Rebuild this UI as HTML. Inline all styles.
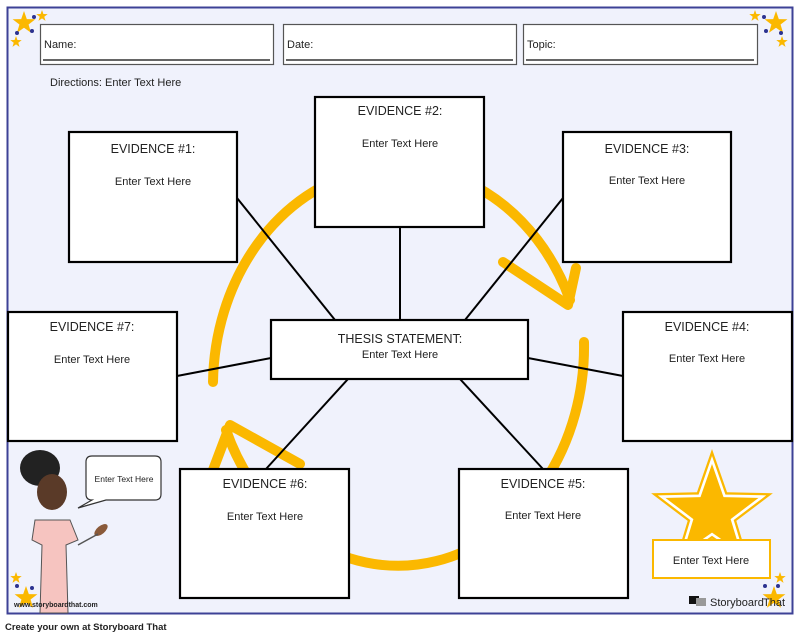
<!DOCTYPE html>
<html><head><meta charset="utf-8"><style>
body{margin:0;background:#fff;}
svg{display:block}
text{font-family:"Liberation Sans",sans-serif;fill:#222}
</style></head><body>
<svg width="800" height="636" viewBox="0 0 800 636" xmlns="http://www.w3.org/2000/svg">
<defs>
<polygon id="st" points="0,-1 0.235,-0.324 0.951,-0.309 0.380,0.124 0.588,0.809 0,0.4 -0.588,0.809 -0.380,0.124 -0.951,-0.309 -0.235,-0.324"/>
</defs>
<rect x="0" y="0" width="800" height="636" fill="#fff"/>
<rect x="7.5" y="7.5" width="785" height="606" fill="#f0f2fc" stroke="#3d4196" stroke-width="2"/>
<!-- header boxes -->
<g fill="#fff" stroke="#555" stroke-width="1.2">
<rect x="40.5" y="24.5" width="233" height="40"/>
<rect x="283.5" y="24.5" width="233" height="40"/>
<rect x="523.5" y="24.5" width="234" height="40"/>
</g>
<g stroke="#333" stroke-width="1.5">
<line x1="43" y1="60" x2="270" y2="60"/>
<line x1="286" y1="60" x2="513" y2="60"/>
<line x1="526" y1="60" x2="754" y2="60"/>
</g>
<text x="44" y="48" font-size="11">Name:</text>
<text x="287" y="48" font-size="11">Date:</text>
<text x="527" y="48" font-size="11">Topic:</text>
<text x="50" y="86" font-size="11">Directions: Enter Text Here</text>
<!-- yellow circular arrows -->
<g fill="none" stroke="#fbb800" stroke-width="10" stroke-linecap="round" stroke-linejoin="round">
<path d="M213,382 A186,219 0 0 1 570,300"/>
<polyline points="503,262 568,305 576,268"/>
<path d="M584,342 A186,219 0 0 1 226,430"/>
<polyline points="213,470 230,425 300,464"/>
</g>
<!-- connectors -->
<g stroke="#000" stroke-width="2">
<line x1="237" y1="198" x2="335" y2="320"/>
<line x1="400" y1="227" x2="400" y2="320"/>
<line x1="563" y1="198" x2="465" y2="320"/>
<line x1="177" y1="376" x2="271" y2="358"/>
<line x1="528" y1="358" x2="623" y2="376"/>
<line x1="266" y1="469" x2="348" y2="379"/>
<line x1="543" y1="469" x2="460" y2="379"/>
</g>
<!-- boxes -->
<g fill="#fff" stroke="#000" stroke-width="2.2">
<rect x="69" y="132" width="168" height="130"/>
<rect x="315" y="97" width="169" height="130"/>
<rect x="563" y="132" width="168" height="130"/>
<rect x="8" y="312" width="169" height="129"/>
<rect x="271" y="320" width="257" height="59"/>
<rect x="623" y="312" width="169" height="129"/>
<rect x="180" y="469" width="169" height="129"/>
<rect x="459" y="469" width="169" height="129"/>
</g>
<g font-size="12.5" text-anchor="middle">
<text x="153" y="153">EVIDENCE #1:</text>
<text x="400" y="115">EVIDENCE #2:</text>
<text x="647" y="153">EVIDENCE #3:</text>
<text x="92" y="331">EVIDENCE #7:</text>
<text x="400" y="343">THESIS STATEMENT:</text>
<text x="707" y="331">EVIDENCE #4:</text>
<text x="265" y="488">EVIDENCE #6:</text>
<text x="543" y="488">EVIDENCE #5:</text>
</g>
<g font-size="11" text-anchor="middle">
<text x="153" y="185">Enter Text Here</text>
<text x="400" y="147">Enter Text Here</text>
<text x="647" y="184">Enter Text Here</text>
<text x="92" y="363">Enter Text Here</text>
<text x="400" y="358">Enter Text Here</text>
<text x="707" y="362">Enter Text Here</text>
<text x="265" y="520">Enter Text Here</text>
<text x="543" y="519">Enter Text Here</text>
</g>
<!-- big star -->
<use href="#st" transform="translate(712,513) scale(64)" fill="#fbb800"/>
<use href="#st" transform="translate(712,513) scale(53)" fill="none" stroke="#fff" stroke-width="0.05"/>
<rect x="653" y="540" width="117" height="38" fill="#fff" stroke="#fbb800" stroke-width="2"/>
<text x="711" y="564" font-size="11" text-anchor="middle">Enter Text Here</text>
<!-- corner stars -->
<g fill="#fbb800">
<use href="#st" transform="translate(24,23) scale(12)"/>
<use href="#st" transform="translate(42,16) scale(6)"/>
<use href="#st" transform="translate(16,42) scale(6)"/>
<use href="#st" transform="translate(776,23) scale(12)"/>
<use href="#st" transform="translate(755,16) scale(6)"/>
<use href="#st" transform="translate(782,42) scale(6)"/>
<use href="#st" transform="translate(26,598) scale(12)"/>
<use href="#st" transform="translate(16,578) scale(6)"/>
<use href="#st" transform="translate(774,598) scale(12)"/>
<use href="#st" transform="translate(780,578) scale(6)"/>
</g>
<g fill="#2c3290">
<circle cx="34" cy="17" r="2"/><circle cx="17" cy="33" r="2"/><circle cx="32" cy="31" r="2"/>
<circle cx="764" cy="17" r="2"/><circle cx="766" cy="31" r="2"/><circle cx="781" cy="33" r="2"/>
<circle cx="17" cy="586" r="2"/><circle cx="32" cy="588" r="2"/>
<circle cx="765" cy="586" r="2"/><circle cx="778" cy="586" r="2"/>
</g>
<!-- character -->
<g>
<ellipse cx="40" cy="468" rx="20" ry="18" fill="#222"/>
<ellipse cx="52" cy="492" rx="15" ry="18" fill="#5a3a28"/>
<path d="M35,520 L70,520 L78,540 L66,545 L68,613 L40,613 L42,545 L32,540 Z" fill="#f6c4c0" stroke="#555" stroke-width="1"/>
<ellipse cx="101" cy="530" rx="8" ry="4" fill="#8a5a3a" transform="rotate(-40 101 530)"/>
<line x1="78" y1="545" x2="98" y2="534" stroke="#555" stroke-width="1.5"/>
</g>
<path d="M92,456 L155,456 Q161,456 161,462 L161,494 Q161,500 155,500 L106,500 L78,508 L92,500 Q86,500 86,494 L86,462 Q86,456 92,456 Z" fill="#fff" stroke="#333" stroke-width="1.2"/>
<text x="124" y="482" font-size="8.5" text-anchor="middle">Enter Text Here</text>
<text x="14" y="607" font-size="7" font-weight="bold" fill="#222">www.storyboardthat.com</text>
<rect x="689" y="596" width="10" height="8" fill="#111"/>
<rect x="696" y="598" width="10" height="8" fill="#999"/>
<text x="710" y="606" font-size="11" fill="#333">Storyboard</text>
<text x="763" y="606" font-size="11" fill="#f4c46c">That</text>
<text x="5" y="630" font-size="9.5" font-weight="bold" fill="#222">Create your own at Storyboard That</text>
</svg>
</body></html>
